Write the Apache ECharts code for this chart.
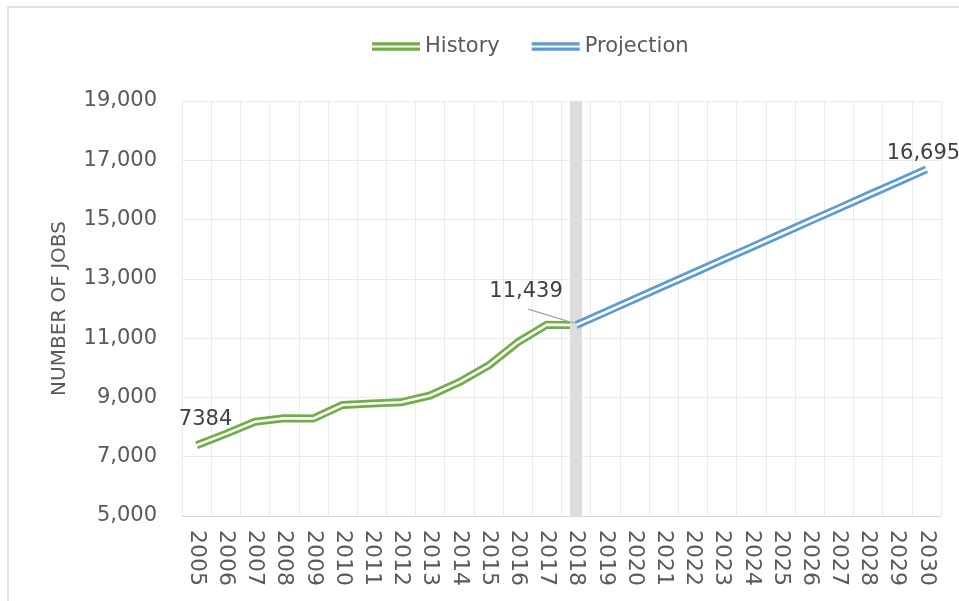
<!DOCTYPE html>
<html lang="en">
<head>
    <meta charset="UTF-8">
    <script src="https://cdn.jsdelivr.net/npm/echarts@6/dist/echarts.min.js"></script>
    <title>jobs</title>
    <style>
        html, body { margin: 0; padding: 0; background: #ffffff; }
        #chart { width: 959px; height: 601px; }
    </style>
</head>
<body>
<div id="chart"></div>

<script>
    const years = ['2005', '2006', '2007', '2008', '2009', '2010', '2011', '2012', '2013',
        '2014', '2015', '2016', '2017', '2018', '2019', '2020', '2021', '2022', '2023',
        '2024', '2025', '2026', '2027', '2028', '2029', '2030'];

    // history 2005-2018
    const history = [7384, 7770, 8180, 8295, 8290, 8745, 8795, 8835, 9065, 9515, 10075, 10860, 11455, 11439];

    // projection 2018-2030 (straight line in the source)
    const projection = [11439, 11875, 12315, 12755, 13190, 13630, 14065, 14505, 14945, 15380, 15820, 16255, 16695];

    const yTicks = [5000, 7000, 9000, 11000, 13000, 15000, 17000, 19000];
    const splitYear = '2018';

    const font = 'DejaVu Sans';
    const green = '#70ad47';
    const blue = '#5b9bd5';

    const histData = years.map((y, i) => i < history.length ? history[i] : null);
    const projData = years.map((y, i) => {
        const k = i - (years.length - projection.length);
        return k >= 0 ? projection[k] : null;
    });

    const lastHist = history.length - 1;
    const labelStyle = { show: true, position: 'top', distance: 5, color: '#404040', fontSize: 21, fontFamily: font };

    const histBase = histData.map((v, i) => {
        if (i === 0) return { value: v, label: Object.assign({}, labelStyle, { formatter: String(v) }) };
        if (i === lastHist) return { value: v, label: Object.assign({}, labelStyle, { formatter: v.toLocaleString('en-US') }) };
        return v;
    });
    const projBase = projData.map((v, i) => {
        if (i === years.length - 1) return { value: v, label: Object.assign({}, labelStyle, { formatter: v.toLocaleString('en-US') }) };
        return v;
    });

    const doubleIcon = 'path://M0,0H48V3.2H0Z M0,5.3H48V8.5H0Z';

    const chart = echarts.init(document.getElementById('chart'));

    const option = {
        animation: false,
        textStyle: { fontFamily: font },
        graphic: [{
            id: 'frame',
            type: 'rect',
            shape: { x: 8, y: 7, width: 980, height: 620 },
            style: { fill: 'none', stroke: '#d9d9d9', lineWidth: 1.5 },
            silent: true
        }],
        legend: {
            top: 31,
            left: 367,
            itemWidth: 48,
            itemHeight: 9,
            itemGap: 32,
            data: [
                { name: 'History', icon: doubleIcon },
                { name: 'Projection', icon: doubleIcon }
            ],
            textStyle: { color: '#595959', fontSize: 21, fontFamily: font }
        },
        grid: { left: 182, right: 18, top: 101, bottom: 85 },
        xAxis: {
            type: 'category',
            data: years,
            boundaryGap: true,
            axisLine: { lineStyle: { color: '#d9d9d9', width: 1 } },
            axisTick: { show: false },
            axisLabel: { interval: 0, rotate: -90, margin: 14, color: '#595959', fontSize: 22, fontFamily: font },
            splitLine: { show: true, interval: 0, lineStyle: { color: '#ebebeb', width: 1 } }
        },
        yAxis: {
            type: 'value',
            min: yTicks[0],
            max: yTicks[yTicks.length - 1],
            interval: 2000,
            name: 'NUMBER OF JOBS',
            nameLocation: 'middle',
            nameGap: 112,
            nameTextStyle: { color: '#595959', fontSize: 20, fontFamily: font },
            axisLine: { show: false },
            axisTick: { show: false },
            axisLabel: {
                margin: 25,
                color: '#595959',
                fontSize: 21,
                fontFamily: font,
                formatter: v => v.toLocaleString('en-US')
            },
            splitLine: { lineStyle: { color: '#ebebeb', width: 1 } }
        },
        series: [
            {
                name: 'band',
                type: 'line',
                data: [],
                z: 1,
                silent: true,
                markLine: {
                    silent: true,
                    symbol: 'none',
                    label: { show: false },
                    lineStyle: { color: '#dcdcdc', width: 12, type: 'solid' },
                    data: [{ xAxis: splitYear }]
                }
            },
            {
                name: 'History',
                type: 'line',
                data: histBase,
                z: 3,
                symbol: 'circle',
                symbolSize: 0,
                showSymbol: true,
                color: green,
                lineStyle: { color: green, width: 8 },
                labelLayout: params => {
                    if (params.dataIndex === 0) return { dx: 9, dy: -10 };
                    if (params.dataIndex === lastHist) return { dx: -50, dy: -18 };
                    return {};
                }
            },
            {
                name: 'History inner',
                type: 'line',
                data: histData,
                z: 4,
                symbol: 'none',
                silent: true,
                lineStyle: { color: '#ffffff', width: 2.6 }
            },
            {
                name: 'Projection',
                type: 'line',
                data: projBase,
                z: 5,
                symbol: 'circle',
                symbolSize: 0,
                showSymbol: true,
                color: blue,
                lineStyle: { color: blue, width: 8 },
                labelLayout: { dx: -3 }
            },
            {
                name: 'Projection inner',
                type: 'line',
                data: projData,
                z: 6,
                symbol: 'none',
                silent: true,
                lineStyle: { color: '#ffffff', width: 2.6 }
            }
        ]
    };

    chart.setOption(option);

    // leader line from the 11,439 label down to its point
    const p = chart.convertToPixel({ xAxisIndex: 0, yAxisIndex: 0 }, [splitYear, history[lastHist]]);
    chart.setOption({
        graphic: [{
            id: 'leader',
            type: 'line',
            silent: true,
            z: 10,
            shape: { x1: p[0] - 48, y1: p[1] - 16, x2: p[0] - 2, y2: p[1] - 2 },
            style: { stroke: '#a6a6a6', lineWidth: 1.5 }
        }]
    });
</script>

</body>
</html>
